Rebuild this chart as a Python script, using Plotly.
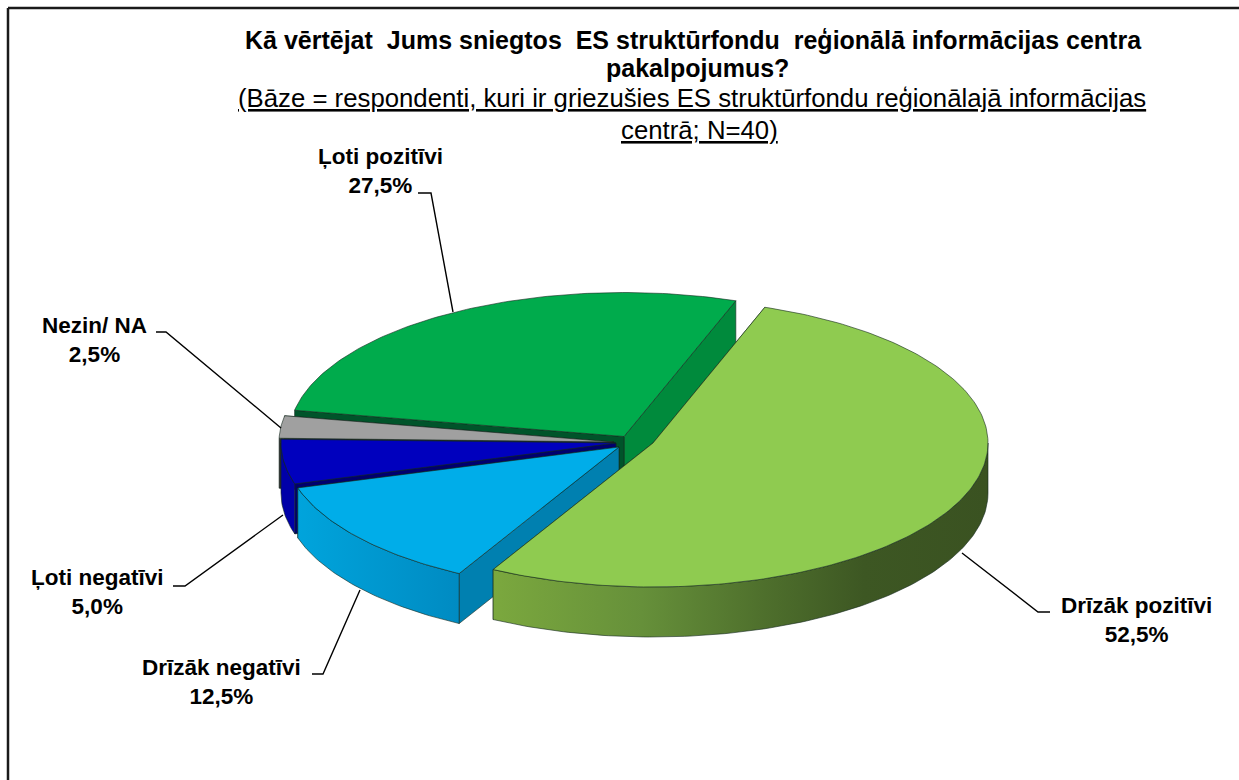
import numpy as np
import plotly.graph_objects as go

# ---- data (clockwise around the pie) ----
categories = ["Drīzāk pozitīvi", "Drīzāk negatīvi", "Ļoti negatīvi", "Nezin/ NA", "Ļoti pozitīvi"]
values = [52.5, 12.5, 5.0, 2.5, 27.5]
value_labels = ["52,5%", "12,5%", "5,0%", "2,5%", "27,5%"]

# ---- styling / geometry ----
W, H = 1239, 780
RX, RY, DEPTH = 335, 144, 50
START = 19.5
FONT = "Liberation Sans"
apex = {"Drīzāk pozitīvi": (653, 443), "Ļoti pozitīvi": (624, 436.5), "Nezin/ NA": (614, 442),
        "Ļoti negatīvi": (616, 443), "Drīzāk negatīvi": (619, 447)}
top_col = {"Drīzāk pozitīvi": "#8FCB50", "Ļoti pozitīvi": "#00AB4C", "Nezin/ NA": "#A0A0A0",
           "Ļoti negatīvi": "#0000BE", "Drīzāk negatīvi": "#00ADE9"}
out_col = {"Drīzāk pozitīvi": [[0, "#7BA83E"], [0.3, "#66903A"], [0.55, "#4E6F2C"], [0.75, "#3D5723"], [1, "#3A5221"]],
           "Ļoti pozitīvi": [[0, "#008A3C"], [1, "#008A3C"]],
           "Nezin/ NA": [[0, "#808080"], [1, "#808080"]],
           "Ļoti negatīvi": [[0, "#0000A8"], [1, "#0000A8"]],
           "Drīzāk negatīvi": [[0, "#00A4DC"], [1, "#008BC2"]]}
cut_start_col = {"Drīzāk pozitīvi": "#6F9A3A", "Ļoti pozitīvi": "#00542A", "Nezin/ NA": "#303030",
                 "Ļoti negatīvi": "#00006E", "Drīzāk negatīvi": "#0080B0"}
cut_end_col = {"Drīzāk pozitīvi": "#6F9A3A", "Ļoti pozitīvi": "#008A3C", "Nezin/ NA": "#606060",
               "Ļoti negatīvi": "#000088", "Drīzāk negatīvi": "#0080B0"}

# slice angles, clockwise from the top, derived from the values
angles = {}
a = START
for name, v in zip(categories, values):
    angles[name] = (a, a + v * 3.6)
    a += v * 3.6


def rim(name, a0, a1, dz=0):
    t = np.radians(np.linspace(a0, a1, max(3, int(abs(a1 - a0)) + 2)))
    cx, cy = apex[name]
    return cx + RX * np.sin(t), cy - RY * np.cos(t) + dz


fig = go.Figure()


def poly(x, y, color=None, grad=None, line="#14281e", lw=0.6):
    kw = dict(fill="toself", mode="lines", line=dict(color=line, width=lw),
              hoverinfo="skip", showlegend=False)
    if grad is not None:
        kw["fillgradient"] = dict(type="horizontal", colorscale=grad)
    else:
        kw["fillcolor"] = color
    fig.add_trace(go.Scatter(x=list(x) + [x[0]], y=list(y) + [y[0]], **kw))


def draw_slice(name):
    a0, a1 = angles[name]
    cx, cy = apex[name]
    x1, y1 = rim(name, a1, a1)
    poly([cx, x1[0], x1[0], cx], [cy, y1[0], y1[0] + DEPTH, cy + DEPTH], cut_end_col[name])
    x0, y0 = rim(name, a0, a0)
    poly([cx, x0[0], x0[0], cx], [cy, y0[0], y0[0] + DEPTH, cy + DEPTH], cut_start_col[name])
    k0 = max(a0, 90)
    k1 = min(a1, 270)
    if k1 > k0:
        xt, yt = rim(name, k0, k1)
        xb, yb = rim(name, k1, k0, DEPTH)
        poly(np.r_[xt, xb], np.r_[yt, yb], grad=out_col[name])
    xr, yr = rim(name, a0, a1)
    poly(np.r_[cx, xr], np.r_[cy, yr], top_col[name])


for name in ["Ļoti pozitīvi", "Nezin/ NA", "Ļoti negatīvi", "Drīzāk negatīvi", "Drīzāk pozitīvi"]:
    draw_slice(name)

# ---- leader lines ----
leaders = {"Drīzāk pozitīvi": [(962, 553), (1038, 612), (1050, 612)],
           "Ļoti pozitīvi": [(418, 193), (431, 193), (453, 312)],
           "Nezin/ NA": [(156, 332), (166, 332), (281, 428)],
           "Ļoti negatīvi": [(173, 586), (185, 586), (283, 515)],
           "Drīzāk negatīvi": [(312, 674), (323, 674), (360, 590)]}
for pts in leaders.values():
    fig.add_trace(go.Scatter(x=[p[0] for p in pts], y=[p[1] for p in pts], mode="lines",
                             line=dict(color="black", width=1.4), hoverinfo="skip", showlegend=False))

# ---- labels ----
label_pos = {"Drīzāk pozitīvi": (1136, 620), "Ļoti pozitīvi": (380, 171), "Nezin/ NA": (94, 340),
             "Ļoti negatīvi": (97, 592), "Drīzāk negatīvi": (221, 682)}
annotations = []
for name, val in zip(categories, value_labels):
    x, y = label_pos[name]
    annotations.append(dict(x=x, y=y, xref="x", yref="y", showarrow=False, align="center",
                            text=f"<b>{name}<br>{val}</b>", font=dict(family=FONT, size=22.5, color="black")))

title_lines = [("<b>Kā vērtējat  Jums sniegtos  ES struktūrfondu  reģionālā informācijas centra</b>", 693, 40, 25),
               ("<b>pakalpojumus?</b>", 697, 68, 25),
               ("<u>(Bāze = respondenti, kuri ir griezušies ES struktūrfondu reģionālajā informācijas</u>", 691.5, 98, 25.75),
               ("<u>centrā; N=40)</u>", 699, 130, 25.75)]
for text, x, y, size in title_lines:
    annotations.append(dict(x=x, y=y, xref="x", yref="y", showarrow=False, text=text,
                            font=dict(family=FONT, size=size, color="black")))

border = dict(color="#1a1a1a", width=2.5)
fig.update_layout(
    width=W, height=H, margin=dict(l=0, r=0, t=0, b=0, autoexpand=False),
    paper_bgcolor="white", plot_bgcolor="white", showlegend=False,
    xaxis=dict(range=[0, W], visible=False, fixedrange=True),
    yaxis=dict(range=[H, 0], visible=False, fixedrange=True),
    annotations=annotations,
    shapes=[dict(type="line", xref="x", yref="y", x0=8, y0=8, x1=W, y1=8, line=border),
            dict(type="line", xref="x", yref="y", x0=8, y0=8, x1=8, y1=H, line=border)],
)
fig.write_html("out.html", config={"displayModeBar": False},
               post_script="document.body.style.margin='0';document.body.style.overflow='hidden';")
